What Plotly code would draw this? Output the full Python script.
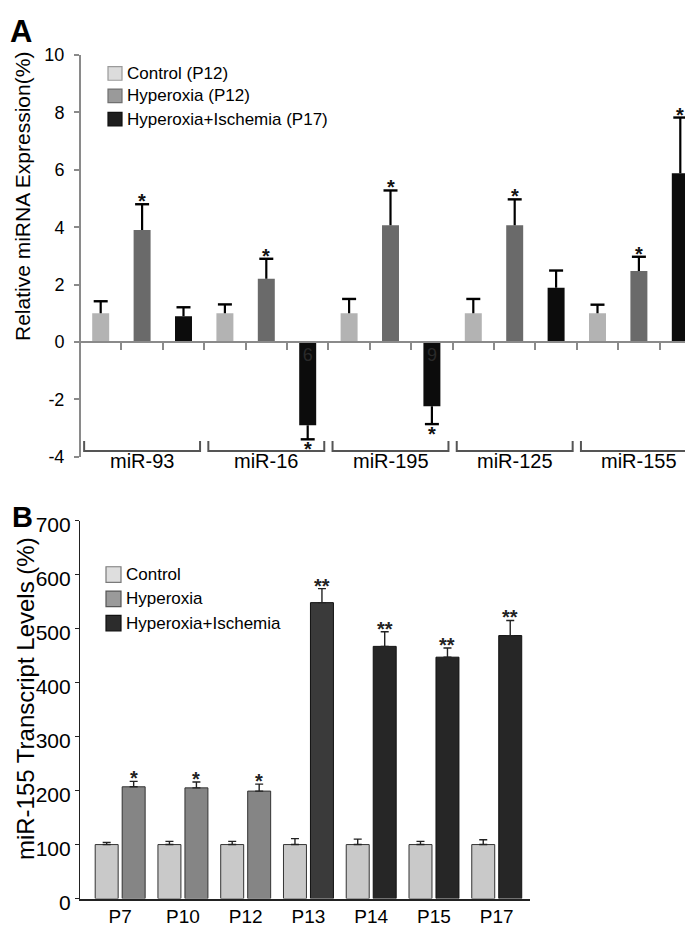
import plotly.graph_objects as go

FIG_W, FIG_H = 693, 926

# ---------------- Panel A data ----------------
mirnas = ["miR-93", "miR-16", "miR-195", "miR-125", "miR-155"]
a_series = ["Control (P12)", "Hyperoxia (P12)", "Hyperoxia+Ischemia (P17)"]
a_control = [1.0, 1.0, 1.0, 1.0, 1.0]
a_hyperoxia = [3.9, 2.2, 4.07, 4.07, 2.47]
a_hyper_isch = [0.9, -2.9, -2.24, 1.89, 5.88]
a_control_err = [0.42, 0.31, 0.5, 0.5, 0.3]
a_hyperoxia_err = [0.9, 0.7, 1.21, 0.9, 0.5]
a_hyper_isch_err = [0.31, 0.49, 0.62, 0.6, 1.94]
a_control_sig = ["", "", "", "", ""]
a_hyperoxia_sig = ["*", "*", "*", "*", "*"]
a_hyper_isch_sig = ["", "*", "*", "", "*"]
a_hyper_isch_inner = ["", "6", "9", "", ""]
a_yticks = [-4, -2, 0, 2, 4, 6, 8, 10]
a_yticklabels = ["-4", "-2", "0", "2", "4", "6", "8", "10"]

# ---------------- Panel B data ----------------
days = ["P7", "P10", "P12", "P13", "P14", "P15", "P17"]
b_series = ["Control", "Hyperoxia", "Hyperoxia+Ischemia"]
b_control = [100, 100, 100, 100, 100, 100, 100]
b_control_err = [4, 6, 6, 11, 10, 6, 9]
b_hyperoxia_days = ["P7", "P10", "P12"]
b_hyperoxia = [207, 205, 199]
b_hyperoxia_err = [10, 11, 13]
b_hyper_isch_days = ["P13", "P14", "P15", "P17"]
b_hyper_isch = [548, 467, 447, 487]
b_hyper_isch_err = [26, 27, 17, 28]
b_hyperoxia_sig = ["*", "*", "*"]
b_hyper_isch_sig = ["**", "**", "**", "**"]
b_yticks = [0, 100, 200, 300, 400, 500, 600, 700]

# ---------------- styles / geometry ----------------
FONT = "Liberation Sans, Arial, sans-serif"
a_colors = ["#b3b3b3", "#6a6a6a", "#0c0c0c"]
a_legend_fill = ["#dcdcdc", "#9a9a9a", "#1e1e1e"]
a_legend_line = ["#9a9a9a", "#707070", "#111111"]
b_control_color = "#c9c9c9"
b_hyperoxia_color = "#858585"
b_hyper_isch_colors = ["#3a3a3a", "#262626", "#262626", "#262626"]
b_legend_fill = ["#dedede", "#9a9a9a", "#2c2c2c"]
b_legend_line = ["#7a7a7a", "#555555", "#111111"]


def fx(px):
    return px / FIG_W


def fy(py):
    return 1 - py / FIG_H


A_YRANGE = [-4, 10]
A_XRANGE = [-0.5, 14.5]
B_YRANGE = [0, 700]
B_XRANGE = [-0.64, 6.53]
a_ydom = [fy(451), fy(38)]
a_xdom = [fx(72), fx(693)]
b_ydom = [fy(905), fy(516.5)]
b_xdom = [fx(72), fx(522)]
a_zero_pos = a_ydom[0] + (a_ydom[1] - a_ydom[0]) * (0 - A_YRANGE[0]) / (A_YRANGE[1] - A_YRANGE[0])

fig = go.Figure()
annotations = []
shapes = []

# ---------------- Panel A bars ----------------
a_vals = [a_control, a_hyperoxia, a_hyper_isch]
a_errs = [a_control_err, a_hyperoxia_err, a_hyper_isch_err]
a_sigs = [a_control_sig, a_hyperoxia_sig, a_hyper_isch_sig]
a_texts = [None, None, a_hyper_isch_inner]
n_s = len(a_series)
for s in range(n_s):
    xs = [g * n_s + s for g in range(len(mirnas))]
    vals, errs = a_vals[s], a_errs[s]
    up = [e if v >= 0 else 0 for v, e in zip(vals, errs)]
    down = [0 if v >= 0 else e for v, e in zip(vals, errs)]
    ends = [v + e if v >= 0 else v - e for v, e in zip(vals, errs)]
    fig.add_trace(go.Bar(
        x=xs, y=vals, width=0.41, name=a_series[s], showlegend=False,
        marker=dict(color=a_colors[s], line=dict(width=0)),
        error_y=dict(type="data", symmetric=False, array=up, arrayminus=down,
                     width=0, thickness=2.2, color="#000000"),
        text=a_texts[s], textposition="inside", insidetextanchor="start",
        textangle=0, textfont=dict(family=FONT, size=18, color="#2a2a2a"),
        xaxis="x", yaxis="y"))
    fig.add_trace(go.Scatter(
        x=xs, y=ends, mode="markers", showlegend=False, hoverinfo="skip",
        marker=dict(symbol="line-ew", size=10, line=dict(width=2.4, color="#000000")),
        cliponaxis=False, xaxis="x", yaxis="y"))
    for x, v, e, sig in zip(xs, vals, ends, a_sigs[s]):
        if sig:
            annotations.append(dict(x=x, y=e, xref="x", yref="y", text="<b>" + sig + "</b>",
                                    showarrow=False, xanchor="center", yanchor="middle",
                                    yshift=3 if v >= 0 else -10,
                                    font=dict(family=FONT, size=20, color="#111111")))

# brackets and group labels
for g, name in enumerate(mirnas):
    x0, x1 = g * n_s - 0.4, g * n_s + n_s - 0.6
    shapes.append(dict(type="path", xref="x", yref="y",
                       path=f"M {x0},-3.45 L {x0},-3.8 L {x1},-3.8 L {x1},-3.45",
                       line=dict(color="#555555", width=2)))
    annotations.append(dict(x=g * n_s + (n_s - 1) / 2, y=0, xref="x", yref="y domain",
                            text=name, showarrow=False, xanchor="center", yanchor="middle",
                            yshift=-4, font=dict(family=FONT, size=20, color="#000000")))

# ---------------- Panel B bars ----------------
day_idx = {d: i for i, d in enumerate(days)}
L_OFF, R_OFF, BW = -0.398, 0.032, 0.366

fig.add_trace(go.Bar(
    x=[day_idx[d] for d in days], y=b_control, offset=L_OFF, width=BW,
    name=b_series[0], showlegend=False,
    marker=dict(color=b_control_color, line=dict(width=1, color="#333333")),
    error_y=dict(type="data", symmetric=False, array=b_control_err,
                 arrayminus=[0] * len(b_control), width=4, thickness=1.4, color="#222222"),
    xaxis="x2", yaxis="y2"))
fig.add_trace(go.Bar(
    x=[day_idx[d] for d in b_hyperoxia_days], y=b_hyperoxia, offset=R_OFF, width=BW,
    name=b_series[1], showlegend=False,
    marker=dict(color=b_hyperoxia_color, line=dict(width=1, color="#333333")),
    error_y=dict(type="data", symmetric=False, array=b_hyperoxia_err,
                 arrayminus=[0] * len(b_hyperoxia), width=4, thickness=1.4, color="#222222"),
    xaxis="x2", yaxis="y2"))
fig.add_trace(go.Bar(
    x=[day_idx[d] for d in b_hyper_isch_days], y=b_hyper_isch, offset=R_OFF, width=BW,
    name=b_series[2], showlegend=False,
    marker=dict(color=b_hyper_isch_colors, line=dict(width=1, color="#111111")),
    error_y=dict(type="data", symmetric=False, array=b_hyper_isch_err,
                 arrayminus=[0] * len(b_hyper_isch), width=4, thickness=1.4, color="#222222"),
    xaxis="x2", yaxis="y2"))

for dlist, vals, errs, sigs in [(b_hyperoxia_days, b_hyperoxia, b_hyperoxia_err, b_hyperoxia_sig),
                                (b_hyper_isch_days, b_hyper_isch, b_hyper_isch_err, b_hyper_isch_sig)]:
    for d, v, e, sig in zip(dlist, vals, errs, sigs):
        annotations.append(dict(x=day_idx[d] + R_OFF + BW / 2, y=v + e, xref="x2", yref="y2",
                                text="<b>" + sig + "</b>", showarrow=False,
                                xanchor="center", yanchor="middle",
                                yshift=3, font=dict(family=FONT, size=20, color="#222222")))

for i in range(len(days)):
    shapes.append(dict(type="line", xref="x2", yref="y2", x0=i - 0.4, x1=i + 0.4,
                       ysizemode="pixel", yanchor=0, y0=-3, y1=-3,
                       line=dict(color="#333333", width=2)))

# ---------------- manual legends ----------------
for k, name in enumerate(a_series):
    cy = [57, 80, 104][k]
    shapes.append(dict(type="rect", xref="paper", yref="paper",
                       x0=fx(100), x1=fx(114), y0=fy(cy + 7), y1=fy(cy - 7),
                       fillcolor=a_legend_fill[k], line=dict(color=a_legend_line[k], width=1.2)))
    annotations.append(dict(x=fx(117), y=fy(cy), xref="paper", yref="paper", text=name,
                            showarrow=False, xanchor="left", yanchor="middle",
                            font=dict(family=FONT, size=17, color="#000000")))
for k, name in enumerate(b_series):
    cy = [572, 597, 622][k]
    shapes.append(dict(type="rect", xref="paper", yref="paper",
                       x0=fx(98), x1=fx(113), y0=fy(cy + 8), y1=fy(cy - 8),
                       fillcolor=b_legend_fill[k], line=dict(color=b_legend_line[k], width=1.2)))
    annotations.append(dict(x=fx(116), y=fy(cy), xref="paper", yref="paper", text=name,
                            showarrow=False, xanchor="left", yanchor="middle",
                            font=dict(family=FONT, size=17, color="#000000")))

# ---------------- titles / panel letters ----------------
annotations.append(dict(x=fx(14), y=fy(184), xref="paper", yref="paper",
                        text="Relative miRNA Expression(%)", textangle=-90, showarrow=False,
                        xanchor="center", yanchor="middle",
                        font=dict(family=FONT, size=21, color="#000000")))
annotations.append(dict(x=fx(17), y=fy(700), xref="paper", yref="paper",
                        text="miR-155 Transcript Levels (%)", textangle=-90, showarrow=False,
                        xanchor="center", yanchor="middle",
                        font=dict(family=FONT, size=24, color="#000000")))
annotations.append(dict(x=fx(13), y=fy(14), xref="paper", yref="paper", text="<b>A</b>",
                        showarrow=False, xanchor="center", yanchor="middle",
                        font=dict(family=FONT, size=31, color="#000000")))
annotations.append(dict(x=fx(14), y=fy(513), xref="paper", yref="paper", text="<b>B</b>",
                        showarrow=False, xanchor="center", yanchor="middle",
                        font=dict(family=FONT, size=29, color="#000000")))

fig.update_layout(
    width=FIG_W, height=FIG_H, margin=dict(l=0, r=0, t=0, b=0),
    paper_bgcolor="#ffffff", plot_bgcolor="rgba(0,0,0,0)",
    barmode="overlay", showlegend=False,
    font=dict(family=FONT, color="#000000"),
    xaxis=dict(domain=a_xdom, range=A_XRANGE, anchor="free", position=a_zero_pos,
               showline=True, linecolor="#8a8a8a", linewidth=2,
               ticks="outside", ticklen=7, tickwidth=2, tickcolor="#8a8a8a",
               tickmode="array", tickvals=[i + 0.5 for i in range(len(mirnas) * n_s)],
               showticklabels=False, showgrid=False, zeroline=False),
    yaxis=dict(domain=a_ydom, range=A_YRANGE, anchor="free", position=fx(72),
               showline=True, linecolor="#8a8a8a", linewidth=2,
               ticks="outside", ticklen=5, tickwidth=2, tickcolor="#8a8a8a",
               tickmode="array", tickvals=a_yticks, ticktext=a_yticklabels,
               ticklabelstandoff=6,
               tickfont=dict(family=FONT, size=18, color="#000000"),
               showgrid=False, zeroline=False),
    xaxis2=dict(domain=b_xdom, range=B_XRANGE, anchor="y2",
                showline=True, linecolor="#222222", linewidth=1.5,
                ticks="", tickmode="array", tickvals=list(range(len(days))), ticktext=days,
                tickfont=dict(family=FONT, size=19, color="#000000"),
                ticklabelstandoff=0, showgrid=False, zeroline=False),
    yaxis2=dict(domain=b_ydom, range=B_YRANGE, anchor="x2",
                showline=True, linecolor="#222222", linewidth=1.2,
                ticks="outside", ticklen=4, tickwidth=1.2, tickcolor="#222222",
                tickmode="array", tickvals=b_yticks, ticklabelstandoff=0, ticklabelshift=4,
                tickfont=dict(family=FONT, size=21, color="#000000"),
                showgrid=False, zeroline=False),
    annotations=annotations, shapes=shapes,
)

fig.write_html("out.html")
